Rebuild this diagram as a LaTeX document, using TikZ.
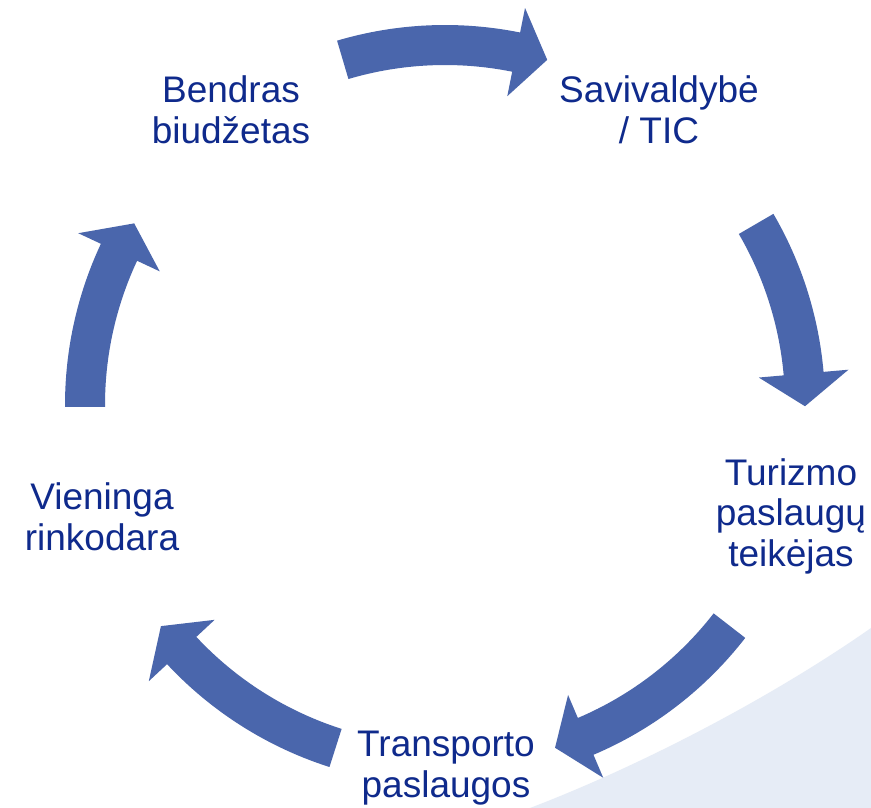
\documentclass[tikz,border=0pt]{standalone}
\usepackage{fontspec}
\setmainfont{Liberation Sans}
\definecolor{arrowblue}{HTML}{4A66AC}
\definecolor{textblue}{HTML}{0F2A8C}
\definecolor{bgblue}{HTML}{E6ECF6}
\tikzset{
  lbl/.style={text=textblue, align=center, font=\fontsize{37}{40.5}\selectfont, inner sep=0pt},
  cyclearrow/.style={fill=arrowblue}
}
% #1 tail angle, #2 head-base angle, #3 tip angle
\newcommand{\cycarrow}[3]{%
  \fill[cyclearrow] (#1:380) arc[start angle=#1, end angle=#2, radius=380]
    -- (#2:405) -- (#3:360) -- (#2:315) -- (#2:340)
    arc[start angle=#2, end angle=#1, radius=340] -- cycle;}
\begin{document}
\begin{tikzpicture}[x=1pt,y=1pt]
\useasboundingbox (-445,-403) rectangle (426,405);
\fill[white] (-445,-403) rectangle (426,405);
% light background shape
\fill[bgblue] (85,-403) .. controls (195,-361) and (326,-293) .. (426,-223) -- (426,-403) -- cycle;
% arrows
\cycarrow{106.5}{78.6}{73.5}
\cycarrow{30.2}{5.0}{-0.2}
\cycarrow{-37.8}{-67.0}{-72.2}
\cycarrow{-107.7}{-137}{-142.1}
\cycarrow{180.3}{154.9}{149.7}
% labels
\node[lbl] (bb) at (-214,295) {Bendras\\biudžetas};
\node[lbl] (st) at (214,295) {Savivaldybė\\/ TIC};
\node[lbl] (tp) at (346,-111) {Turizmo\\paslaugų\\teikėjas};
\node[lbl] (tr) at (1,-363) {Transporto\\paslaugos};
\node[lbl] (vr) at (-343,-112) {Vieninga\\rinkodara};
\end{tikzpicture}
\end{document}
